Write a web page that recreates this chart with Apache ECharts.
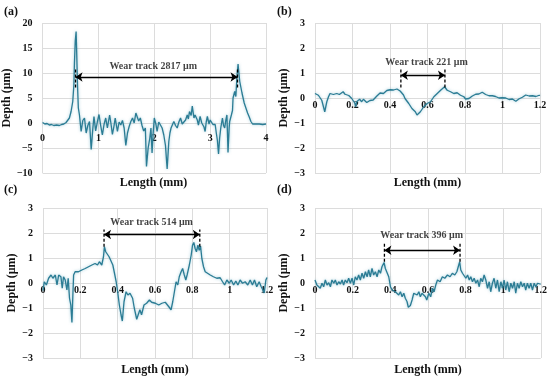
<!DOCTYPE html>
<html><head><meta charset="utf-8">
<script src="https://cdn.jsdelivr.net/npm/echarts@6/dist/echarts.min.js"></script>
<style>html,body{margin:0;padding:0;background:#fff}#c{width:550px;height:383px}</style>
</head><body><div id="c"></div><script>
// ---- Panel (a) profile ----
const aX=[0.00,0.04,0.08,0.12,0.16,0.20,0.25,0.30,0.34,0.38,0.42,0.45,0.48,0.51,0.54,0.56,0.57,0.585,0.60,0.61,0.625,0.64,0.66,0.69,0.72,0.75,0.78,0.81,0.84,0.87,0.90,0.92,0.95,0.98,1.01,1.04,1.07,1.10,1.13,1.16,1.20,1.22,1.25,1.28,1.30,1.34,1.37,1.40,1.43,1.46,1.49,1.52,1.55,1.58,1.61,1.64,1.67,1.70,1.72,1.75,1.78,1.81,1.84,1.86,1.89,1.92,1.94,1.96,1.98,2.00,2.03,2.05,2.08,2.11,2.14,2.17,2.20,2.23,2.26,2.28,2.30,2.33,2.35,2.38,2.41,2.44,2.47,2.50,2.53,2.56,2.59,2.61,2.63,2.66,2.68,2.71,2.73,2.75,2.77,2.79,2.82,2.85,2.87,2.89,2.91,2.93,2.95,2.98,3.00,3.03,3.05,3.07,3.09,3.11,3.13,3.15,3.17,3.19,3.22,3.24,3.26,3.28,3.30,3.31,3.32,3.34,3.35,3.38,3.40,3.41,3.44,3.46,3.48,3.50,3.51,3.53,3.57,3.61,3.64,3.67,3.70,3.73,3.76,3.79,3.82,3.85,3.88,3.91,3.94,3.97,4.00];
const aY=[0.1,-0.2,-0.1,-0.4,-0.3,-0.5,-0.4,-0.5,-0.3,-0.2,0.1,0.5,1.0,2.3,4.3,7.6,12,16.4,18.3,14.3,7.6,3.0,1.6,-1.7,0.5,1.0,-2.0,-0.5,0.3,-5.3,-1.0,1.3,-1.6,0.2,1.7,-0.5,-2.4,-0.3,1.0,-1.0,1.6,0.2,-2.3,-0.5,1.0,-1.7,0.2,-0.4,0.5,-1.0,-4.5,-2.0,-0.7,0.3,1.0,0.0,2.0,2.2,0.4,1.0,-0.5,-1.6,-1.0,-8.7,-5.0,-3.0,-1.0,-6.0,-2.0,1.0,-0.3,-1.7,0.2,-0.4,-1.0,-2.4,-4.5,-9.2,-3.7,-2.0,-1.0,-0.2,0.3,-0.5,-1.0,0.2,1.0,-0.2,-0.4,0.6,1.6,0.8,2.3,1.5,3.4,1.0,1.6,2.0,0.6,-0.4,1.3,0.0,0.3,-0.8,-1.7,0.2,1.3,-0.2,0.6,1.0,-0.3,-0.7,-0.3,-2.0,-3.5,-6.2,-3.0,-1.0,1.0,-0.5,-1.0,0.5,1.6,-2.0,-5.9,-1.0,0.3,1.6,2.5,5.0,6.3,5.3,9.3,11.8,10.5,8.3,6.0,4.0,3.0,2.0,1.2,0.3,-0.2,-0.4,-0.2,-0.4,-0.2,-0.5,-0.3,-0.4,-0.2];
// ---- Panel (b) profile ----
const bX=[0.000,0.018,0.036,0.052,0.063,0.072,0.080,0.090,0.098,0.107,0.116,0.125,0.130,0.140,0.150,0.160,0.170,0.180,0.187,0.196,0.205,0.212,0.217,0.222,0.228,0.238,0.249,0.258,0.267,0.276,0.285,0.293,0.300,0.310,0.320,0.330,0.338,0.347,0.356,0.365,0.374,0.383,0.392,0.401,0.410,0.419,0.428,0.437,0.445,0.454,0.463,0.472,0.480,0.490,0.500,0.508,0.517,0.526,0.535,0.544,0.553,0.562,0.571,0.580,0.589,0.598,0.607,0.616,0.625,0.634,0.643,0.652,0.661,0.670,0.680,0.691,0.698,0.705,0.714,0.723,0.732,0.740,0.749,0.758,0.767,0.776,0.785,0.794,0.803,0.812,0.821,0.830,0.839,0.848,0.857,0.865,0.874,0.883,0.892,0.900,0.910,0.919,0.928,0.937,0.946,0.955,0.963,0.972,0.981,0.990,0.999,1.008,1.017,1.026,1.035,1.044,1.053,1.062,1.071,1.080,1.089,1.097,1.106,1.115,1.124,1.133,1.142,1.150,1.160,1.169,1.178,1.187,1.196,1.200];
const bY=[0.18,0.11,-0.09,-0.55,-0.15,0.05,0.18,0.12,0.14,0.22,0.18,0.10,0.14,0.20,0.25,0.15,0.18,0.10,0.05,-0.02,-0.09,-0.20,-0.35,-0.15,-0.09,-0.05,-0.15,-0.05,-0.09,-0.18,-0.22,-0.10,-0.15,-0.08,-0.02,0.08,0.11,0.20,0.25,0.18,0.21,0.30,0.27,0.33,0.25,0.32,0.29,0.36,0.31,0.28,0.25,0.12,-0.02,-0.10,-0.22,-0.30,-0.42,-0.48,-0.55,-0.68,-0.62,-0.55,-0.45,-0.35,-0.28,-0.22,-0.25,-0.15,-0.05,0.05,0.10,0.18,0.25,0.31,0.36,0.45,0.38,0.31,0.28,0.25,0.20,0.18,0.24,0.21,0.14,0.11,0.08,0.05,-0.04,-0.09,-0.02,0.05,0.08,0.11,0.15,0.18,0.16,0.21,0.23,0.18,0.14,0.11,0.09,0.07,0.09,0.11,0.06,0.02,0.00,-0.02,0.01,0.02,0.00,-0.02,-0.06,-0.09,-0.04,-0.06,-0.13,-0.11,-0.03,0.05,0.03,0.07,0.12,0.11,0.08,0.05,0.09,0.11,0.06,0.07,0.11,0.10];
// ---- Panel (c) profile ----
const cX=[0.000,0.007,0.018,0.030,0.043,0.053,0.066,0.075,0.084,0.096,0.103,0.110,0.119,0.128,0.135,0.142,0.149,0.155,0.160,0.164,0.172,0.190,0.208,0.226,0.244,0.262,0.279,0.292,0.302,0.315,0.324,0.329,0.336,0.345,0.354,0.363,0.374,0.383,0.392,0.400,0.409,0.418,0.425,0.434,0.445,0.455,0.466,0.480,0.489,0.502,0.510,0.519,0.528,0.541,0.555,0.570,0.582,0.602,0.620,0.637,0.655,0.673,0.686,0.695,0.704,0.713,0.722,0.730,0.740,0.748,0.757,0.765,0.772,0.784,0.794,0.801,0.808,0.815,0.822,0.830,0.837,0.844,0.851,0.860,0.869,0.878,0.896,0.913,0.931,0.949,0.962,0.973,0.985,0.998,1.008,1.021,1.033,1.044,1.056,1.069,1.083,1.097,1.110,1.122,1.133,1.145,1.158,1.169,1.178,1.185,1.194,1.200];
const cY=[-0.30,0.05,-0.08,0.19,0.32,0.19,0.32,-0.08,0.32,0.25,-0.21,0.25,0.12,-0.28,0.19,-0.61,-0.88,-1.58,-0.48,0.32,0.45,0.45,0.52,0.58,0.65,0.72,0.78,0.72,0.85,0.72,1.05,1.45,1.25,1.31,1.05,1.12,0.72,0.39,0.05,-0.35,-0.88,-1.27,-1.52,-0.75,-0.35,-0.48,-0.41,-0.61,-1.00,-1.45,-1.27,-1.07,-1.27,-0.88,-0.81,-0.68,-0.77,-0.81,-0.88,-0.81,-0.77,-0.94,-1.07,-0.75,-0.35,0.05,-0.08,0.25,0.45,0.58,0.32,0.12,0.32,0.72,1.12,1.51,1.62,1.38,1.25,1.51,1.31,1.48,0.98,0.65,0.45,0.39,0.32,0.25,0.19,0.21,0.05,-0.08,0.12,-0.01,0.12,-0.08,0.08,-0.08,0.12,-0.01,0.05,-0.08,0.12,-0.08,0.12,-0.15,0.05,-0.15,-0.28,-0.40,0.12,0.22];
// ---- Panel (d) profile ----
const dX=[0.000,0.010,0.019,0.028,0.037,0.046,0.055,0.064,0.073,0.082,0.090,0.100,0.108,0.117,0.126,0.135,0.144,0.152,0.161,0.170,0.179,0.188,0.197,0.206,0.214,0.223,0.232,0.241,0.250,0.259,0.268,0.277,0.285,0.294,0.303,0.312,0.321,0.330,0.339,0.348,0.356,0.367,0.374,0.383,0.392,0.401,0.410,0.419,0.427,0.436,0.445,0.454,0.463,0.472,0.480,0.489,0.496,0.507,0.516,0.525,0.534,0.543,0.552,0.560,0.569,0.587,0.594,0.605,0.615,0.624,0.633,0.642,0.651,0.665,0.677,0.690,0.704,0.718,0.730,0.743,0.754,0.761,0.769,0.775,0.784,0.793,0.802,0.811,0.820,0.828,0.837,0.846,0.855,0.864,0.873,0.881,0.890,0.899,0.908,0.917,0.926,0.934,0.943,0.952,0.961,0.970,0.979,0.988,0.997,1.005,1.014,1.023,1.032,1.041,1.050,1.059,1.067,1.076,1.085,1.094,1.103,1.112,1.120,1.129,1.138,1.147,1.156,1.165,1.174,1.183,1.193,1.200];
const dY=[0.12,-0.08,-0.01,-0.21,-0.01,-0.15,0.12,-0.08,0.01,-0.15,0.12,-0.01,0.12,-0.08,0.05,-0.04,0.12,-0.08,0.12,0.01,0.19,-0.01,0.19,-0.08,0.25,0.12,0.32,0.12,0.39,0.19,0.45,0.25,0.52,0.25,0.58,0.32,0.45,0.25,0.52,0.39,0.65,0.82,0.58,0.65,0.25,-0.15,-0.28,-0.21,-0.35,-0.28,-0.48,-0.35,-0.55,-0.41,-0.61,-0.74,-0.97,-0.90,-0.68,-0.41,-0.35,-0.48,-0.35,-0.55,-0.41,-0.55,-0.68,-0.41,-0.55,-0.21,-0.35,-0.08,0.12,0.05,0.25,0.19,0.32,0.25,0.39,0.32,0.45,0.39,0.85,0.52,0.39,0.45,0.19,0.32,0.12,0.25,0.05,0.19,-0.01,0.12,-0.15,0.19,0.05,0.32,0.12,-0.21,0.05,-0.35,-0.01,0.19,-0.21,0.12,-0.35,0.05,-0.21,0.12,-0.28,0.05,-0.35,-0.01,-0.21,0.05,-0.41,-0.01,-0.21,0.05,-0.15,-0.01,-0.28,-0.01,-0.21,-0.01,-0.28,-0.01,-0.15,-0.01,-0.08,-0.05];

// ---- Axis ranges / ticks ----
const xRanges=[[0,4,1],[0,1.2,0.2],[0,1.2,0.2],[0,1.2,0.2]];
const yRanges=[[-10,20,5],[-3,3,1],[-3,3,1],[-3,3,1]];
// ---- Annotations: dashed marker x positions, dashed span, arrow level, note position ----
const markX=[[0.59,3.49],[0.458,0.693],[0.327,0.84],[0.369,0.771]];
const dashY=[[7.1,10.9],[0.42,1.18],[1.45,2.14],[0.85,1.65]];
const arrowY=[9.2,0.91,1.94,1.31];
const noteXY=[[1.98,11.3],[0.595,1.42],[0.582,2.42],[0.567,1.90]];
const noteText=['Wear track 2817 μm','Wear track 221 μm','Wear track 514 μm','Wear track 396 μm'];
const panelTags=['(a)','(b)','(c)','(d)'];

const FONT='"Liberation Serif", "DejaVu Serif", serif';
const LINE='#2b7c94';
const profiles=[[aX,aY],[bX,bY],[cX,cY],[dX,dY]];
const grids=[
  {left:41,top:23,width:225,height:150},
  {left:315,top:23,width:225,height:150},
  {left:43,top:208,width:224,height:150},
  {left:315,top:208,width:226,height:150}
];
const xLabelMargin=[10,2,2,2];

const xAxis=[],yAxis=[],series=[];
for(let i=0;i<4;i++){
  const [ymin,ymax]=yRanges[i];
  // place the x axis (labels) at the y = 0 level of its grid
  const zeroOffset=-grids[i].height*(0-ymin)/(ymax-ymin);
  xAxis.push({type:'value',gridIndex:i,min:xRanges[i][0],max:xRanges[i][1],interval:xRanges[i][2],
    position:'bottom',offset:zeroOffset,
    axisLine:{show:false,onZero:false},axisTick:{show:false},
    splitLine:{show:true,lineStyle:{color:'#dcdcdc',width:1}},
    axisLabel:{margin:xLabelMargin[i],fontFamily:FONT,fontWeight:'bold',fontSize:10,color:'#111',
      formatter:v=>String(+v.toFixed(2))}});
  yAxis.push({type:'value',gridIndex:i,min:ymin,max:ymax,interval:yRanges[i][2],
    name:'Depth (μm)',nameLocation:'middle',nameGap:23,
    nameTextStyle:{fontFamily:FONT,fontWeight:'bold',fontSize:12,color:'#111'},
    axisLine:{show:false},axisTick:{show:false},
    splitLine:{show:true,lineStyle:{color:'#dcdcdc',width:1}},
    axisLabel:{margin:10,fontFamily:FONT,fontWeight:'bold',fontSize:10,color:'#111',
      formatter:v=>String(v).replace('-','\u2212')}});
  const [px,py]=profiles[i];
  series.push({type:'line',xAxisIndex:i,yAxisIndex:i,data:px.map((x,k)=>[x,py[k]]),
    showSymbol:false,symbol:'none',z:3,
    lineStyle:{color:LINE,width:1.3,shadowColor:'rgba(60,150,180,0.5)',shadowBlur:3}});
  for(const mx of markX[i]){
    series.push({type:'line',xAxisIndex:i,yAxisIndex:i,data:[[mx,dashY[i][0]],[mx,dashY[i][1]]],
      symbol:'none',z:4,lineStyle:{color:'#000',width:1.3,type:[3,2]}});
  }
  series.push({type:'lines',coordinateSystem:'cartesian2d',xAxisIndex:i,yAxisIndex:i,z:4,
    symbol:['arrow','arrow'],symbolSize:7,
    lineStyle:{color:'#000',width:1.3,opacity:1,curveness:0},
    data:[{coords:[[markX[i][0],arrowY[i]],[markX[i][1],arrowY[i]]]}]});
  series.push({type:'scatter',xAxisIndex:i,yAxisIndex:i,z:5,symbolSize:1,
    itemStyle:{color:'rgba(0,0,0,0)'},
    label:{show:true,position:'inside',formatter:noteText[i],fontFamily:FONT,fontWeight:'bold',fontSize:10,color:'#111'},
    data:[noteXY[i]]});
}
const graphic=[];
const tagPos=[[4,13],[277,13],[4,191],[277,191]];
panelTags.forEach((t,i)=>graphic.push({type:'text',left:tagPos[i][0],top:tagPos[i][1]-7,
  style:{text:t,font:'bold 12px '+FONT,fill:'#111'}}));
const lenPos=[[153.5,183],[427.5,183],[155,370],[428,370]];
lenPos.forEach(p=>graphic.push({type:'text',x:p[0],y:p[1],
  style:{text:'Length (mm)',font:'bold 12px '+FONT,fill:'#111',align:'center',verticalAlign:'middle'}}));

const chart=echarts.init(document.getElementById('c'),null,{renderer:'canvas'});
chart.setOption({animation:false,backgroundColor:'#fff',grid:grids,xAxis,yAxis,series,graphic});
</script></body></html>
